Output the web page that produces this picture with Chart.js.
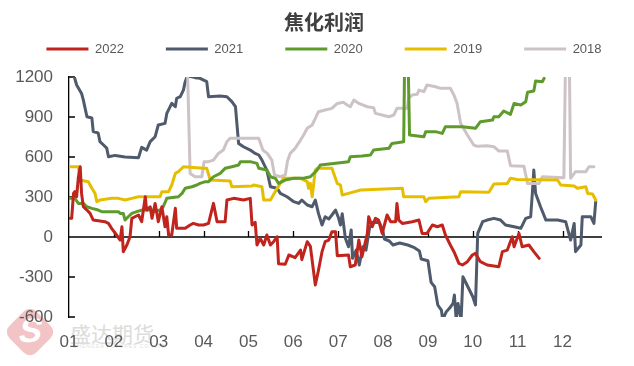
<!DOCTYPE html>
<html><head><meta charset="utf-8">
<script src="https://cdn.jsdelivr.net/npm/chart.js@4.4.1/dist/chart.umd.min.js"></script>
<style>
html,body{margin:0;padding:0;background:#fff;}
#wrap{position:relative;width:634px;height:366px;overflow:hidden;}
canvas{position:absolute;left:0;top:0;z-index:1;}
.wm{position:absolute;z-index:0;}
#logo{left:11px;top:313px;width:38px;height:38px;background:#f3c4c6;border-radius:9px;transform:rotate(45deg);}
#logoS{left:17px;top:311px;width:28px;height:40px;font:bold 34px "Liberation Sans",sans-serif;color:#fff;text-align:center;transform:skewX(-12deg);}
#wmtext{left:70px;top:318px;font:21px "Noto Sans CJK SC",sans-serif;color:#dcdcdc;}
#wmsub{left:73px;top:343px;font:5px "Liberation Sans",sans-serif;color:#e0e0e0;letter-spacing:1px;}
</style></head><body>
<div id="wrap">
<div class="wm" id="logo"></div>
<div class="wm" id="logoS">S</div>
<div class="wm" id="wmtext">盛达期货</div>
<div class="wm" id="wmsub">SHENGDA FUTURES CO.,LTD</div>
<canvas id="c" width="634" height="366"></canvas>
</div>
<script>
// ---- data (x = month position, 0 = start of Jan) ----
const MONTHS = ['01','02','03','04','05','06','07','08','09','10','11','12'];
const Y_TICKS = [-600,-300,0,300,600,900,1200];

const x2022 = [0.02,0.06,0.10,0.13,0.17,0.21,0.25,0.28,0.32,0.40,
0.47,0.54,0.80,0.88,0.95,1.06,1.14,1.18,1.21,1.29,
1.36,1.40,1.47,1.55,1.62,1.70,1.73,1.81,1.85,1.92,
1.96,1.99,2.07,2.14,2.18,2.22,2.29,2.37,2.40,2.59,
2.70,2.77,2.89,3.00,3.11,3.22,3.30,3.48,3.52,3.67,
3.89,4.04,4.08,4.15,4.19,4.26,4.34,4.41,4.49,4.56,
4.64,4.67,4.82,4.90,5.04,5.16,5.19,5.31,5.38,5.49,
5.56,5.64,5.71,5.79,5.86,5.94,5.98,6.23,6.27,6.38,
6.46,6.53,6.65,6.68,6.76,6.83,6.90,6.98,7.09,7.17,
7.28,7.31,7.35,7.43,7.65,7.80,7.87,7.98,8.10,8.21,
8.32,8.39,8.50,8.58,8.69,8.77,8.88,8.99,9.06,9.17,
9.32,9.58,9.66,9.77,9.88,9.92,10.03,10.10,10.25,10.36,
10.48];
const y2022 = [140,140,327,340,302,452,527,327,227,202,
177,127,115,102,65,15,-23,77,-110,-60,
2,140,152,165,115,302,202,227,140,252,
177,115,227,77,152,15,15,215,65,65,
90,102,90,90,102,252,115,115,277,290,
277,290,90,110,-60,-10,-60,15,-60,-35,
2,-200,-205,-135,-155,-98,-170,-35,-70,-360,
-250,-110,-35,-23,40,40,-140,-135,-223,-210,
-23,-148,27,152,77,140,127,27,165,115,
115,252,127,102,115,127,27,27,90,77,
90,15,-60,-110,-198,-210,-185,-135,-123,-185,
-210,-223,-110,-98,2,-73,27,-73,-60,-110,
-160];

const x2021 = [0.00,0.12,0.17,0.28,0.32,0.40,0.51,0.54,0.65,0.69,
0.77,0.84,0.88,1.03,1.25,1.55,1.62,1.73,1.81,1.92,
1.99,2.14,2.18,2.29,2.37,2.40,2.48,2.55,2.59,2.63,
2.70,2.81,2.92,3.07,3.11,3.37,3.52,3.63,3.71,3.78,
3.89,4.04,4.15,4.23,4.30,4.41,4.49,4.64,4.71,4.86,
5.01,5.12,5.19,5.31,5.42,5.49,5.56,5.64,5.71,5.79,
5.86,5.94,6.01,6.05,6.09,6.16,6.23,6.29,6.32,6.40,
6.47,6.55,6.62,6.70,6.77,6.92,6.99,7.03,7.14,7.22,
7.37,7.55,7.70,7.81,7.85,8.00,8.07,8.15,8.22,8.30,
8.33,8.41,8.48,8.56,8.59,8.63,8.67,8.74,8.78,8.89,
9.00,9.06,9.11,9.22,9.32,9.47,9.62,9.73,9.92,10.07,
10.18,10.29,10.33,10.36,10.40,10.44,10.51,10.63,10.89,11.07,
11.18,11.26,11.29,11.41,11.44,11.63,11.70,11.74];
const y2021 = [1300,1200,1140,1077,1027,902,892,790,780,715,
690,667,602,612,600,595,672,652,715,752,
840,852,927,1002,977,1040,1052,1102,1165,1200,
1205,1195,1190,1165,1052,1057,1052,1015,977,702,
677,652,627,615,577,502,377,365,327,302,
265,252,277,240,227,277,177,90,152,135,
165,202,140,90,175,-10,-73,52,-160,-98,
-210,-73,-98,70,110,108,52,-15,-30,-60,
-45,-60,-80,-105,-165,-178,-340,-373,-510,-548,
-620,-560,-535,-498,-435,-620,-498,-620,-298,-373,
-448,-510,27,115,127,140,127,90,77,65,
140,152,340,502,327,290,227,127,127,115,
-23,102,-110,-60,152,152,102,265];

const x2020 = [0.00,0.13,0.21,0.32,0.40,0.51,0.65,0.73,1.10,1.14,
1.21,1.25,1.32,1.40,1.51,1.62,1.85,1.88,2.03,2.10,
2.18,2.44,2.52,2.59,2.74,2.85,2.92,3.04,3.11,3.22,
3.37,3.48,3.63,3.78,3.82,4.04,4.19,4.23,4.41,4.49,
4.60,4.67,4.82,5.01,5.23,5.38,5.53,5.60,5.90,6.23,
6.27,6.53,6.72,6.79,7.13,7.20,7.46,7.48,7.56,7.59,
7.91,7.95,8.17,8.32,8.39,8.77,9.06,9.17,9.44,9.47,
9.58,9.69,9.84,9.92,10.07,10.18,10.22,10.36,10.40,10.55,
10.59];
const y2020 = [290,290,252,252,227,215,202,190,190,177,
177,127,152,177,190,202,202,190,202,227,
290,302,327,365,377,390,402,415,415,452,
477,515,527,540,565,565,552,515,502,452,
440,402,427,440,440,452,502,540,552,565,
602,607,615,652,665,702,715,1300,1300,765,
752,790,790,777,827,827,815,865,877,902,
902,945,920,1002,990,1015,1085,1095,1170,1165,
1190];

const x2019 = [0.00,0.21,0.25,0.43,0.51,0.58,0.62,0.69,0.95,1.10,
1.25,1.40,1.55,2.03,2.07,2.22,2.29,2.37,2.44,2.55,
3.00,3.07,3.15,3.59,3.63,4.08,4.11,4.30,4.34,4.49,
4.64,4.78,5.16,5.31,5.34,5.38,5.42,5.49,5.53,5.86,
5.98,6.05,6.09,6.23,6.50,7.43,7.46,7.91,7.95,8.02,
8.69,8.73,9.36,9.47,9.77,9.84,9.99,10.89,10.96,11.26,
11.33,11.52,11.56,11.67,11.74];
const y2019 = [527,527,427,415,365,327,265,277,290,290,
277,290,302,302,340,340,390,477,490,527,
515,515,427,420,377,382,390,377,277,277,
365,440,440,415,365,402,302,502,515,515,
402,390,315,327,352,365,302,302,265,290,
302,340,335,397,402,440,432,427,390,382,
365,377,327,322,277];

const x2018 = [2.63,2.70,2.81,2.96,3.01,3.11,3.22,3.33,3.44,3.52,
3.59,4.23,4.32,4.42,4.52,4.58,4.71,4.82,4.87,4.93,
5.04,5.16,5.23,5.31,5.42,5.49,5.56,5.71,5.86,5.98,
6.12,6.20,6.27,6.35,6.46,6.65,6.79,6.83,6.98,7.13,
7.24,7.31,7.54,7.57,7.65,7.76,7.80,7.91,7.98,8.17,
8.28,8.50,8.58,8.65,8.73,8.88,9.02,9.10,9.32,9.47,
9.58,9.77,9.84,10.14,10.22,10.48,10.55,11.03,11.07,11.15,
11.18,11.29,11.52,11.59,11.70];
const y2018 = [1400,477,452,452,565,565,577,627,652,715,
740,740,652,627,577,465,452,465,570,627,
665,727,765,815,840,890,940,952,965,1002,
1010,990,977,1027,1002,977,970,927,915,902,
915,965,965,1040,1065,1070,1102,1090,1140,1127,
1115,1115,1065,1002,852,765,690,680,685,677,
645,645,535,530,402,402,452,445,1400,1400,
440,490,490,527,527];

const SERIES = [
  {label:'2022', xs:x2022, ys:y2022, color:'#C0241C', order:0},
  {label:'2021', xs:x2021, ys:y2021, color:'#4F5A6C', order:4},
  {label:'2020', xs:x2020, ys:y2020, color:'#5E9A2C', order:1},
  {label:'2019', xs:x2019, ys:y2019, color:'#E6BE00', order:2},
  {label:'2018', xs:x2018, ys:y2018, color:'#CDC3C6', order:3}
];

const LEGEND_SHIFT = 35.5, LEGEND_H = 41;

// keep the five legend entries on one row with wide spacing, compact vertically
const legendTweak = {
  id:'legendTweak',
  afterInit(chart){
    const lg = chart.legend;
    if (!lg || lg.__patched) return;
    lg.__patched = true;
    const fit = lg.fit.bind(lg);
    lg.fit = function(){
      const mw = this.maxWidth;
      this.maxWidth = 5000;
      fit();
      this.maxWidth = mw;
      this.width = mw;
      this.height = LEGEND_H;
    };
    const d = lg._draw.bind(lg);
    lg._draw = function(){
      const c = this.ctx, L = this.left, R = this.right, mid = (L + R) / 2;
      this.left = mid - 2000; this.right = mid + 2000;
      c.save(); c.translate(0, -LEGEND_SHIFT);
      d();
      c.restore();
      this.left = L; this.right = R;
    };
  }
};

const axisDeco = {
  id:'axisDeco',
  beforeDatasetsDraw(chart){
    const {ctx, chartArea:a, scales:{x,y}} = chart;
    const y0 = y.getPixelForValue(0);
    ctx.save();
    ctx.strokeStyle = '#000'; ctx.lineWidth = 1.3;
    ctx.beginPath();
    ctx.moveTo(a.left, y0); ctx.lineTo(a.right, y0);
    x.ticks.forEach(t => { if (t.value === 0) return; const px = Math.round(x.getPixelForValue(t.value)) + 0.5; ctx.moveTo(px, y0); ctx.lineTo(px, y0 - 6); });
    y.ticks.forEach(t => { const py = y.getPixelForValue(t.value); ctx.moveTo(a.left, py); ctx.lineTo(a.left + 6, py); });
    ctx.stroke();
    ctx.restore();
  }
};

new Chart(document.getElementById('c'), {
  type:'line',
  data:{
    datasets: SERIES.map(s => ({
      label:s.label,
      data:s.xs.map((x,i)=>({x:x, y:s.ys[i]})),
      borderColor:s.color, backgroundColor:s.color,
      borderWidth:3, pointRadius:0, tension:0,
      borderJoinStyle:'round', borderCapStyle:'round',
      order:s.order
    }))
  },
  options:{
    responsive:false, animation:false, devicePixelRatio:1,
    layout:{padding:{left:14,right:0,top:0,bottom:0}},
    plugins:{
      tooltip:{enabled:false},
      title:{display:true, text:'焦化利润', color:'#404040',
        font:{family:'"Noto Sans CJK SC", sans-serif', size:20, weight:'bold'},
        padding:{top:10,bottom:2}},
      legend:{display:true, position:'top',
        labels:{boxWidth:42, boxHeight:3, padding:42, color:'#595959',
          font:{family:'"Liberation Sans", Arial, sans-serif', size:13},
          sort:(a,b)=>a.datasetIndex-b.datasetIndex,
          generateLabels:(chart)=>Chart.defaults.plugins.legend.labels.generateLabels(chart)
             .map(l=>Object.assign(l,{lineWidth:0, fillStyle:l.strokeStyle}))}}
    },
    scales:{
      x:{type:'linear', min:0, max:11.88,
        afterBuildTicks:(s)=>{ s.ticks = MONTHS.map((m,i)=>({value:i})); },
        afterFit:(s)=>{ s.height = 49; },
        grid:{display:false, drawTicks:false}, border:{display:false},
        ticks:{autoSkip:false, maxRotation:0, padding:15, color:'#595959',
          font:{family:'"Liberation Sans", Arial, sans-serif', size:17},
          callback:(v)=>MONTHS[v]}},
      y:{min:-600, max:1200,
        afterBuildTicks:(s)=>{ s.ticks = Y_TICKS.map(v=>({value:v})); },
        afterFit:(s)=>{ s.width = 55; },
        grid:{display:false, drawTicks:false},
        border:{display:true, color:'#000', width:1.3},
        ticks:{padding:16, color:'#595959',
          font:{family:'"Liberation Sans", Arial, sans-serif', size:17},
          callback:(v)=>String(v)}},
      yRight:{position:'right', display:true, min:-600, max:1200,
        afterFit:(s)=>{ s.width = 32; },
        grid:{display:false, drawTicks:false}, border:{display:false},
        ticks:{display:false}}
    }
  },
  plugins:[legendTweak, axisDeco]
});
</script>
</body></html>
